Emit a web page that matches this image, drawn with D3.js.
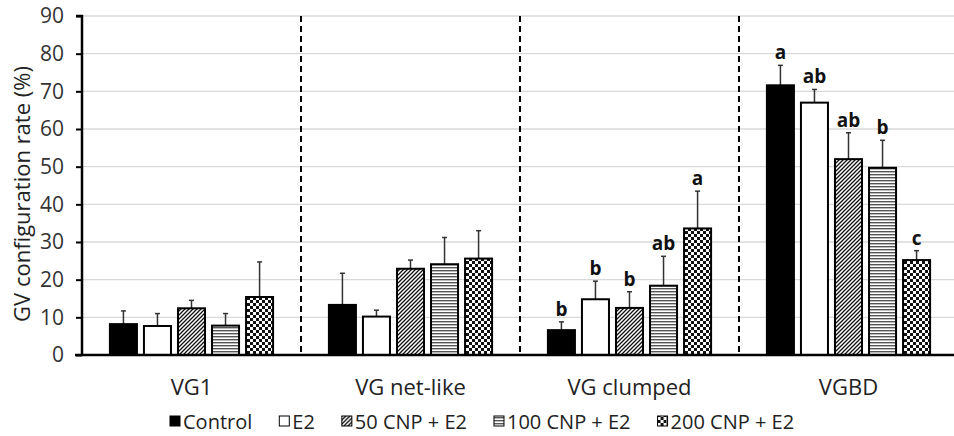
<!DOCTYPE html>
<html><head><meta charset="utf-8">
<script src="https://cdn.jsdelivr.net/npm/d3@7"></script>
<style>body{margin:0;background:#fff}svg{display:block}</style>
</head><body>
<svg id="c" width="954" height="436"></svg>
<script>
const categories = ["VG1", "VG net-like", "VG clumped", "VGBD"];
const seriesNames = ["Control", "E2", "50 CNP + E2", "100 CNP + E2", "200 CNP + E2"];
const control = [8.2, 13.3, 6.6, 71.6];
const e2 = [7.7, 10.2, 14.8, 67.0];
const cnp50 = [12.4, 22.9, 12.5, 52.0];
const cnp100 = [7.8, 24.1, 18.4, 49.7];
const cnp200 = [15.4, 25.6, 33.6, 25.2];
const errControl = [3.5, 8.4, 2.2, 5.3];
const errE2 = [3.3, 1.7, 4.8, 3.5];
const err50 = [2.1, 2.3, 4.3, 7.0];
const err100 = [3.2, 7.1, 7.8, 7.3];
const err200 = [9.3, 7.4, 9.9, 2.5];
const lettersControl = ["", "", "b", "a"];
const lettersE2 = ["", "", "b", "ab"];
const letters50 = ["", "", "b", "ab"];
const letters100 = ["", "", "ab", "b"];
const letters200 = ["", "", "a", "c"];
const yTicks = [0, 10, 20, 30, 40, 50, 60, 70, 80, 90];

const values = [control, e2, cnp50, cnp100, cnp200];
const errs = [errControl, errE2, err50, err100, err200];
const letters = [lettersControl, lettersE2, letters50, letters100, letters200];

const svg = d3.select("#c");
const FONT = "'Open Sans', sans-serif";
const mLeft = 82, mRight = 958, mTop = 16, mBottom = 355;

const defs = svg.append("defs");
const pd = defs.append("pattern").attr("id", "p50").attr("patternUnits", "userSpaceOnUse")
  .attr("width", 4).attr("height", 4);
pd.append("rect").attr("width", 4).attr("height", 4).attr("fill", "#fff");
pd.append("path").attr("d", "M-1,1 l2,-2 M0,4 l4,-4 M3,5 l2,-2").attr("stroke", "#111").attr("stroke-width", 1.3);
const ph = defs.append("pattern").attr("id", "p100").attr("patternUnits", "userSpaceOnUse")
  .attr("width", 6).attr("height", 3);
ph.append("rect").attr("width", 6).attr("height", 3).attr("fill", "#fff");
ph.append("rect").attr("y", 0).attr("width", 6).attr("height", 1.4).attr("fill", "#555");
const pc = defs.append("pattern").attr("id", "p200").attr("patternUnits", "userSpaceOnUse")
  .attr("width", 6).attr("height", 6);
pc.append("rect").attr("width", 6).attr("height", 6).attr("fill", "#fff");
pc.append("rect").attr("width", 3).attr("height", 3).attr("fill", "#111");
pc.append("rect").attr("x", 3).attr("y", 3).attr("width", 3).attr("height", 3).attr("fill", "#111");

const fills = ["#000", "#fff", "url(#p50)", "url(#p100)", "url(#p200)"];

const y = d3.scaleLinear().domain([0, 90]).range([mBottom, mTop]);
const x0 = d3.scaleBand().domain(categories).range([mLeft, mRight]).padding(0);
const x1 = d3.scaleBand().domain(seriesNames).range([0, x0.bandwidth()])
  .paddingInner(0.206).paddingOuter(0.82);

svg.append("g").selectAll("line").data(yTicks.filter(d => d > 0)).join("line")
  .attr("x1", mLeft).attr("x2", 954).attr("y1", d => y(d)).attr("y2", d => y(d))
  .attr("stroke", "#d9d9d9").attr("stroke-width", 1.3);

svg.append("g").selectAll("line").data(categories.slice(1)).join("line")
  .attr("x1", d => x0(d)).attr("x2", d => x0(d)).attr("y1", mTop).attr("y2", mBottom)
  .attr("stroke", "#000").attr("stroke-width", 2).attr("stroke-dasharray", "6,4");

const groups = svg.append("g").selectAll("g").data(categories).join("g")
  .attr("transform", d => `translate(${x0(d)},0)`);
groups.each(function(cat, ci) {
  const g = d3.select(this);
  seriesNames.forEach((s, si) => {
    const v = values[si][ci], e = errs[si][ci];
    const bx = x1(s), bw = x1.bandwidth(), cx = bx + bw / 2;
    g.append("line").attr("x1", cx).attr("x2", cx).attr("y1", y(v)).attr("y2", y(v + e))
      .attr("stroke", "#333").attr("stroke-width", 1.5);
    g.append("line").attr("x1", cx - 2.5).attr("x2", cx + 2.5).attr("y1", y(v + e)).attr("y2", y(v + e))
      .attr("stroke", "#333").attr("stroke-width", 1.5);
    g.append("rect").attr("x", bx).attr("width", bw).attr("y", y(v)).attr("height", y(0) - y(v))
      .attr("fill", fills[si]).attr("stroke", "#000").attr("stroke-width", 2);
    const L = letters[si][ci];
    if (L) g.append("text").attr("x", cx).attr("y", y(v + e) - 6).attr("text-anchor", "middle")
      .attr("font-family", FONT).attr("font-weight", "bold").attr("font-size", 19).attr("fill", "#111").text(L);
  });
});

const yAxis = svg.append("g").attr("transform", `translate(${mLeft},0)`)
  .call(d3.axisLeft(y).tickValues(yTicks).tickSize(6).tickPadding(12));
yAxis.select(".domain").attr("stroke", "#000").attr("stroke-width", 2.5).attr("d", `M-6,${mTop}H0V${mBottom}`);
yAxis.selectAll(".tick line").attr("stroke", "#000").attr("stroke-width", 2);
yAxis.selectAll("text").attr("font-family", FONT).attr("font-size", 21).attr("fill", "#333");

svg.append("line").attr("x1", mLeft - 7).attr("x2", 954).attr("y1", mBottom).attr("y2", mBottom)
  .attr("stroke", "#000").attr("stroke-width", 2.5);
const xAxis = svg.append("g").attr("transform", `translate(0,${mBottom})`)
  .call(d3.axisBottom(x0).tickSize(0).tickPadding(24));
xAxis.select(".domain").remove();
xAxis.selectAll("text").attr("font-family", FONT).attr("font-size", 22).attr("fill", "#222");

svg.append("text").attr("transform", `translate(30,194) rotate(-90)`)
  .attr("text-anchor", "middle").attr("font-family", FONT).attr("font-size", 22).attr("fill", "#222")
  .text("GV configuration rate (%)");

const lg = svg.append("g");
let lx = 170;
seriesNames.forEach((s, i) => {
  const it = lg.append("g").attr("transform", `translate(${lx},0)`);
  it.append("rect").attr("x", 0).attr("y", 416).attr("width", 10).attr("height", 10)
    .attr("fill", fills[i]).attr("stroke", "#000").attr("stroke-width", 1);
  const t = it.append("text").attr("x", 13).attr("y", 429).attr("font-family", FONT).attr("font-size", 20)
    .attr("fill", "#222").text(s);
  lx += 13 + t.node().getComputedTextLength() + 27;
});
</script>
</body></html>
